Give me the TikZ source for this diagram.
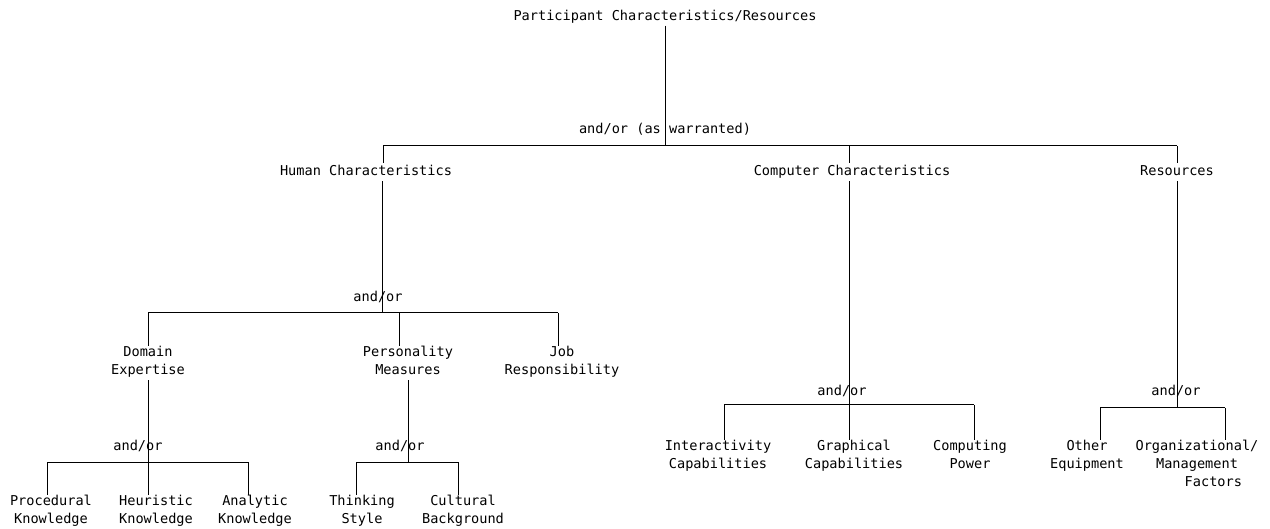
\documentclass[tikz,border=0pt]{standalone}
\usepackage{fontspec}
\newfontfamily\monof{DejaVu Sans Mono}
\begin{document}
\begin{tikzpicture}[x=1pt,y=-1pt,
  lbl/.style={font=\monof\fontsize{13.6}{18}\selectfont, align=center, inner sep=0pt,
    execute at begin node=\strut, execute at end node=\strut},
  ln/.style={line width=1pt, black}]
\useasboundingbox (0,0) rectangle (1270,529);
% level 0
\node[lbl] (root) at (665,16.5) {Participant Characteristics/Resources};
\node[lbl] (ao0) at (665,129.5) {and/or (as warranted)};
\coordinate (j0) at (665,146);
\node[lbl] (hum) at (366,172) {Human Characteristics};
\node[lbl] (comp) at (852,172) {Computer Characteristics};
\node[lbl] (res) at (1177,172) {Resources};
\coordinate (hx) at (383,146);
\coordinate (cx) at (849,146);
\coordinate (rx) at (1177,146);
\draw[ln] (root.south) -- (j0);
\draw[ln] (hx) -- (rx);
\draw[ln] (hx) -- (hx |- hum.north);
\draw[ln] (cx) -- (cx |- comp.north);
\draw[ln] (rx) -- (res.north);
% human subtree
\node[lbl] (aoH) at (378,297.5) {and/or};
\coordinate (jH) at (382,313);
\draw[ln] (jH |- hum.south) -- (jH);
\node[lbl] (dom) at (148,363) {Domain\\Expertise};
\node[lbl] (pers) at (408,363) {Personality\\Measures};
\node[lbl] (job) at (562,363) {Job\\Responsibility};
\coordinate (dx) at (148,313);
\coordinate (px) at (399,313);
\coordinate (jx) at (558,313);
\draw[ln] (dx) -- (jx);
\draw[ln] (dx) -- (dom.north);
\draw[ln] (px) -- (px |- pers.north);
\draw[ln] (jx) -- (jx |- job.north);
% domain subtree
\node[lbl] (aoD) at (138,446.5) {and/or};
\coordinate (jD) at (148,462);
\draw[ln] (dom.south) -- (jD);
\node[lbl] (proc) at (51,512) {Procedural\\Knowledge};
\node[lbl] (heur) at (156,512) {Heuristic\\Knowledge};
\node[lbl] (anal) at (255,512) {Analytic\\Knowledge};
\coordinate (pcx) at (47,462);
\coordinate (hex) at (148,462);
\coordinate (anx) at (248,462);
\draw[ln] (pcx) -- (anx);
\draw[ln] (pcx) -- (pcx |- proc.north);
\draw[ln] (hex) -- (hex |- heur.north);
\draw[ln] (anx) -- (anx |- anal.north);
% personality subtree
\node[lbl] (aoP) at (400,446.5) {and/or};
\coordinate (jP) at (408,462);
\draw[ln] (pers.south) -- (jP);
\node[lbl] (think) at (362,512) {Thinking\\Style};
\node[lbl] (cult) at (463,512) {Cultural\\Background};
\coordinate (thx) at (356,462);
\coordinate (cux) at (458,462);
\draw[ln] (thx) -- (cux);
\draw[ln] (thx) -- (thx |- think.north);
\draw[ln] (cux) -- (cux |- cult.north);
% computer subtree
\node[lbl] (aoC) at (842,391.5) {and/or};
\coordinate (jC) at (849,405);
\draw[ln] (jC |- comp.south) -- (jC);
\node[lbl] (inter) at (718,457) {Interactivity\\Capabilities};
\node[lbl] (graph) at (854,457) {Graphical\\Capabilities};
\node[lbl] (cpow) at (970,457) {Computing\\Power};
\coordinate (inx) at (724,405);
\coordinate (grx) at (849,405);
\coordinate (cpx) at (974,405);
\draw[ln] (inx) -- (cpx);
\draw[ln] (inx) -- (inx |- inter.north);
\draw[ln] (grx) -- (grx |- graph.north);
\draw[ln] (cpx) -- (cpx |- cpow.north);
% resources subtree
\node[lbl] (aoR) at (1176,391.5) {and/or};
\coordinate (jR) at (1177,408);
\draw[ln] (res.south) -- (jR);
\node[lbl] (oth) at (1087,457) {Other\\Equipment};
\node[lbl] (org) at (1197,466) {Organizational/\\Management\\\phantom{MMMM}Factors};
\coordinate (otx) at (1100,408);
\coordinate (orx) at (1225,408);
\draw[ln] (otx) -- (orx);
\draw[ln] (otx) -- (otx |- oth.north);
\draw[ln] (orx) -- (orx |- org.north);
\end{tikzpicture}
\end{document}
